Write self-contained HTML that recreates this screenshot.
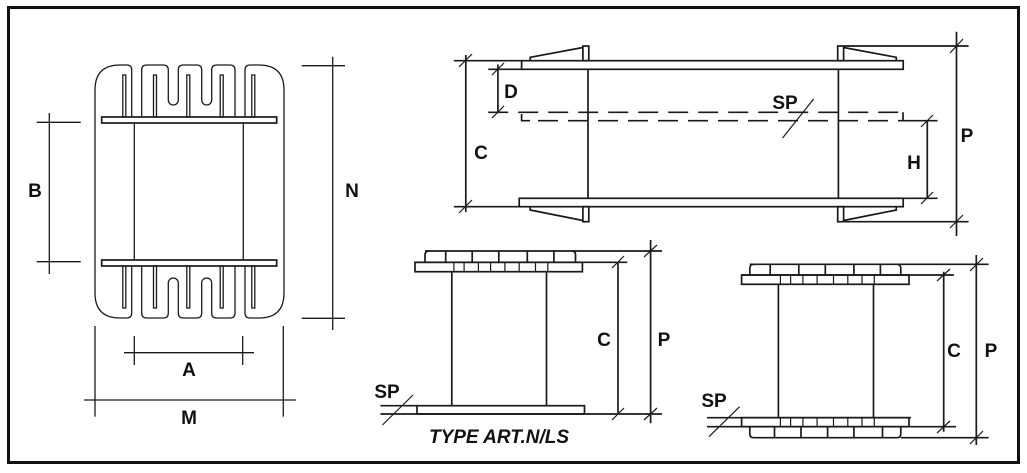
<!DOCTYPE html>
<html><head><meta charset="utf-8"><style>
html,body{margin:0;padding:0;background:#fff;}
svg{display:block;}
text{font-family:"Liberation Sans",Arial,sans-serif;font-weight:bold;font-size:19px;fill:#111;}
</style></head><body>
<svg width="1027" height="473" viewBox="0 0 1027 473" xmlns="http://www.w3.org/2000/svg">
<rect x="0" y="0" width="1027" height="473" fill="#fff"/>
<rect x="8.5" y="7.5" width="1010" height="455" fill="none" stroke="#111" stroke-width="3"/>
<g fill="none" stroke="#1a1a1a" stroke-width="1.7">
<!-- LEFT FIGURE -->
<g id="half">
<path d="M95,191.5 L95,90 Q95,65 120,65 L126.7,65 Q131.7,65 131.7,70 L131.7,117 M141.7,117 L141.7,70 Q141.7,65 146.7,65 L163.3,65 Q168.3,65 168.3,70 L168.3,100 A5,5 0 0 0 178.3,100 L178.3,70 Q178.3,65 183.3,65 L196.7,65 Q201.7,65 201.7,70 L201.7,100 A5,5 0 0 0 211.7,100 L211.7,70 Q211.7,65 216.7,65 L230,65 Q235,65 235,70 L235,117 M245,117 L245,70 Q245,65 250,65 L259,65 Q284,65 284,90 L284,191.5" stroke-width="1.3"/>
<rect x="122.8" y="75" width="3" height="42" stroke-width="1.3"/>
<rect x="153.5" y="75" width="3" height="42" stroke-width="1.3"/>
<rect x="186.8" y="75" width="3" height="42" stroke-width="1.3"/>
<rect x="220.2" y="75" width="3" height="42" stroke-width="1.3"/>
<rect x="251.8" y="75" width="3" height="42" stroke-width="1.3"/>
<rect x="101.7" y="117" width="175" height="6"/>
</g>
<use href="#half" transform="translate(0,383) scale(1,-1)"/>
<line x1="134.3" y1="123" x2="134.3" y2="260" stroke-width="1.3"/>
<line x1="243.3" y1="123" x2="243.3" y2="260" stroke-width="1.3"/>
<g stroke-width="1.3">
<line x1="49.3" y1="113" x2="49.3" y2="274"/>
<line x1="36.7" y1="122.3" x2="80.7" y2="122.3"/>
<line x1="36.7" y1="261.7" x2="80.7" y2="261.7"/>
<line x1="332.7" y1="56.7" x2="332.7" y2="330"/>
<line x1="301.7" y1="65.7" x2="345" y2="65.7"/>
<line x1="301.7" y1="318.3" x2="345" y2="318.3"/>
<line x1="124" y1="352.7" x2="254" y2="352.7"/>
<line x1="134.3" y1="336" x2="134.3" y2="365"/>
<line x1="242.7" y1="336" x2="242.7" y2="365"/>
<line x1="84" y1="400" x2="296" y2="400"/>
<line x1="95" y1="326" x2="95" y2="416.7"/>
<line x1="283.3" y1="326" x2="283.3" y2="416.7"/>
</g>

<!-- TOP RIGHT FIGURE -->
<line x1="453.8" y1="60.7" x2="521.6" y2="60.7"/>
<rect x="521.6" y="60.7" width="381.6" height="8.6"/>
<rect x="519.2" y="198.3" width="384" height="8.4"/>
<line x1="453.8" y1="206.7" x2="519.2" y2="206.7"/>
<line x1="465.8" y1="55" x2="465.8" y2="212"/>
<line x1="459" y1="67" x2="472" y2="54" stroke-width="1.2"/>
<line x1="459" y1="213" x2="472" y2="200" stroke-width="1.2"/>
<rect x="582.9" y="46" width="5.9" height="14.7"/>
<rect x="582.9" y="206.7" width="5.9" height="15"/>
<rect x="837.7" y="46" width="5.9" height="14.7"/>
<rect x="837.7" y="206.7" width="5.9" height="15"/>
<path d="M530.2,60.7 L530.2,57.3 L582.9,47.5"/>
<path d="M530.2,206.7 L530.2,210 L582.9,220.5"/>
<path d="M843.6,47.5 L896.3,57.3 L896.3,60.7"/>
<path d="M843.6,220.5 L896.3,210 L896.3,206.7"/>
<line x1="588" y1="69.3" x2="588" y2="198.3"/>
<line x1="838.4" y1="69.3" x2="838.4" y2="198.3"/>
<line x1="488.2" y1="112.3" x2="903" y2="112.3" stroke-dasharray="20,10"/>
<path d="M521.6,114 L521.6,120.7 L530,120.7"/>
<line x1="538" y1="120.7" x2="903" y2="120.7" stroke-dasharray="20,10"/>
<path d="M903,112.3 L903,120.7 L937.6,120.7"/>
<line x1="488.2" y1="69.3" x2="521.6" y2="69.3"/>
<line x1="497.9" y1="64.4" x2="497.9" y2="112.3"/>
<line x1="492" y1="75" x2="504" y2="63" stroke-width="1.2"/>
<line x1="492" y1="118" x2="504" y2="106" stroke-width="1.2"/>
<line x1="903" y1="198.3" x2="937.6" y2="198.3"/>
<line x1="927.3" y1="120.7" x2="927.3" y2="198.3"/>
<line x1="921" y1="127" x2="933" y2="115" stroke-width="1.2"/>
<line x1="921" y1="204" x2="933" y2="192" stroke-width="1.2"/>
<line x1="843.6" y1="46" x2="968.6" y2="46"/>
<line x1="843.6" y1="221.7" x2="968.6" y2="221.7"/>
<line x1="956.5" y1="31.7" x2="956.5" y2="236"/>
<line x1="950" y1="53" x2="963" y2="39" stroke-width="1.2"/>
<line x1="950" y1="228" x2="963" y2="215" stroke-width="1.2"/>
<line x1="782.6" y1="138" x2="813.6" y2="99" stroke-width="1.2"/>

<!-- BOTTOM LEFT FIGURE -->
<line x1="425" y1="251" x2="662" y2="251"/>
<path d="M425,262.3 L425,255 Q425,251 429,251 M572,251 Q575.5,251 575.5,255 L575.5,262.3"/>
<line x1="445.7" y1="251" x2="445.7" y2="262.3"/>
<line x1="472.2" y1="251" x2="472.2" y2="262.3"/>
<line x1="498.8" y1="251" x2="498.8" y2="262.3"/>
<line x1="527.3" y1="251" x2="527.3" y2="262.3"/>
<line x1="553.9" y1="251" x2="553.9" y2="262.3"/>
<line x1="415" y1="262.3" x2="627.3" y2="262.3"/>
<rect x="415" y="262.3" width="167.4" height="9.4"/>
<g stroke-width="1.2">
<line x1="453.9" y1="262.3" x2="453.9" y2="271.7"/><line x1="464.1" y1="262.3" x2="464.1" y2="271.7"/>
<line x1="478.4" y1="262.3" x2="478.4" y2="271.7"/><line x1="490.6" y1="262.3" x2="490.6" y2="271.7"/>
<line x1="504.9" y1="262.3" x2="504.9" y2="271.7"/><line x1="519.2" y1="262.3" x2="519.2" y2="271.7"/>
<line x1="535.5" y1="262.3" x2="535.5" y2="271.7"/><line x1="547.8" y1="262.3" x2="547.8" y2="271.7"/>
</g>
<line x1="451.8" y1="271.7" x2="451.8" y2="405.7"/>
<line x1="546.5" y1="271.7" x2="546.5" y2="405.7"/>
<rect x="417" y="405.7" width="167.5" height="8.3"/>
<line x1="380.4" y1="405.7" x2="417" y2="405.7"/>
<line x1="380.4" y1="414" x2="662" y2="414"/>
<line x1="382.4" y1="425" x2="413" y2="395" stroke-width="1.2"/>
<line x1="618" y1="262.3" x2="618" y2="414"/>
<line x1="612" y1="268" x2="624" y2="256" stroke-width="1.2"/>
<line x1="612" y1="420" x2="624" y2="408" stroke-width="1.2"/>
<line x1="650.6" y1="240" x2="650.6" y2="423.3"/>
<line x1="644" y1="257" x2="657" y2="245" stroke-width="1.2"/>
<line x1="644" y1="420" x2="657" y2="408" stroke-width="1.2"/>

<!-- BOTTOM RIGHT FIGURE -->
<line x1="749.8" y1="264.3" x2="988.6" y2="264.3"/>
<path d="M749.8,275 L749.8,268.3 Q749.8,264.3 753.8,264.3 M897,264.3 Q900.8,264.3 900.8,268.3 L900.8,275"/>
<line x1="770.2" y1="264.3" x2="770.2" y2="275"/><line x1="798.8" y1="264.3" x2="798.8" y2="275"/>
<line x1="825.3" y1="264.3" x2="825.3" y2="275"/><line x1="853.9" y1="264.3" x2="853.9" y2="275"/>
<line x1="880.4" y1="264.3" x2="880.4" y2="275"/>
<line x1="741.6" y1="275" x2="953.9" y2="275"/>
<rect x="741.6" y="275" width="167.4" height="9.3"/>
<g stroke-width="1.2">
<line x1="780.4" y1="275" x2="780.4" y2="284.3"/><line x1="790.6" y1="275" x2="790.6" y2="284.3"/>
<line x1="802.9" y1="275" x2="802.9" y2="284.3"/><line x1="817.1" y1="275" x2="817.1" y2="284.3"/>
<line x1="833.5" y1="275" x2="833.5" y2="284.3"/><line x1="847.8" y1="275" x2="847.8" y2="284.3"/>
<line x1="862" y1="275" x2="862" y2="284.3"/><line x1="874.3" y1="275" x2="874.3" y2="284.3"/>
</g>
<line x1="778.4" y1="284.3" x2="778.4" y2="417.7"/>
<line x1="873.5" y1="284.3" x2="873.5" y2="417.7"/>
<line x1="707" y1="417.7" x2="911" y2="417.7"/>
<rect x="741.6" y="417.7" width="167.4" height="9"/>
<g stroke-width="1.2">
<line x1="780.4" y1="417.7" x2="780.4" y2="426.7"/><line x1="790.6" y1="417.7" x2="790.6" y2="426.7"/>
<line x1="802.9" y1="417.7" x2="802.9" y2="426.7"/><line x1="817.1" y1="417.7" x2="817.1" y2="426.7"/>
<line x1="833.5" y1="417.7" x2="833.5" y2="426.7"/><line x1="847.8" y1="417.7" x2="847.8" y2="426.7"/>
<line x1="862" y1="417.7" x2="862" y2="426.7"/><line x1="874.3" y1="417.7" x2="874.3" y2="426.7"/>
</g>
<line x1="707" y1="426.7" x2="956" y2="426.7"/>
<path d="M749.8,426.7 L749.8,433.7 Q749.8,437.7 753.8,437.7 L897,437.7 Q900.8,437.7 900.8,433.7 L900.8,426.7"/>
<line x1="774.5" y1="426.7" x2="774.5" y2="437.7"/><line x1="801" y1="426.7" x2="801" y2="437.7"/>
<line x1="827.6" y1="426.7" x2="827.6" y2="437.7"/><line x1="853.9" y1="426.7" x2="853.9" y2="437.7"/>
<line x1="882.5" y1="426.7" x2="882.5" y2="437.7"/>
<line x1="900.8" y1="437.7" x2="988.6" y2="437.7"/>
<line x1="709" y1="436.7" x2="739.6" y2="406.7" stroke-width="1.2"/>
<line x1="943.7" y1="271.7" x2="943.7" y2="431.7"/>
<line x1="937" y1="281" x2="950" y2="269" stroke-width="1.2"/>
<line x1="937" y1="433" x2="950" y2="421" stroke-width="1.2"/>
<line x1="976.3" y1="255" x2="976.3" y2="445"/>
<line x1="970" y1="271" x2="983" y2="258" stroke-width="1.2"/>
<line x1="970" y1="444" x2="983" y2="431" stroke-width="1.2"/>
</g>
<g text-anchor="middle">
<text x="35" y="197">B</text>
<text x="352" y="197">N</text>
<text x="189" y="376">A</text>
<text x="189" y="424">M</text>
<text x="511" y="98">D</text>
<text x="481" y="159">C</text>
<text x="785" y="109">SP</text>
<text x="914" y="169">H</text>
<text x="967" y="142">P</text>
<text x="604" y="346">C</text>
<text x="664" y="346">P</text>
<text x="387" y="398">SP</text>
<text x="954" y="357">C</text>
<text x="991" y="357">P</text>
<text x="714" y="407">SP</text>
<text x="499" y="443" font-style="italic" font-size="20">TYPE ART.N/LS</text>
</g>
</svg>
</body></html>
